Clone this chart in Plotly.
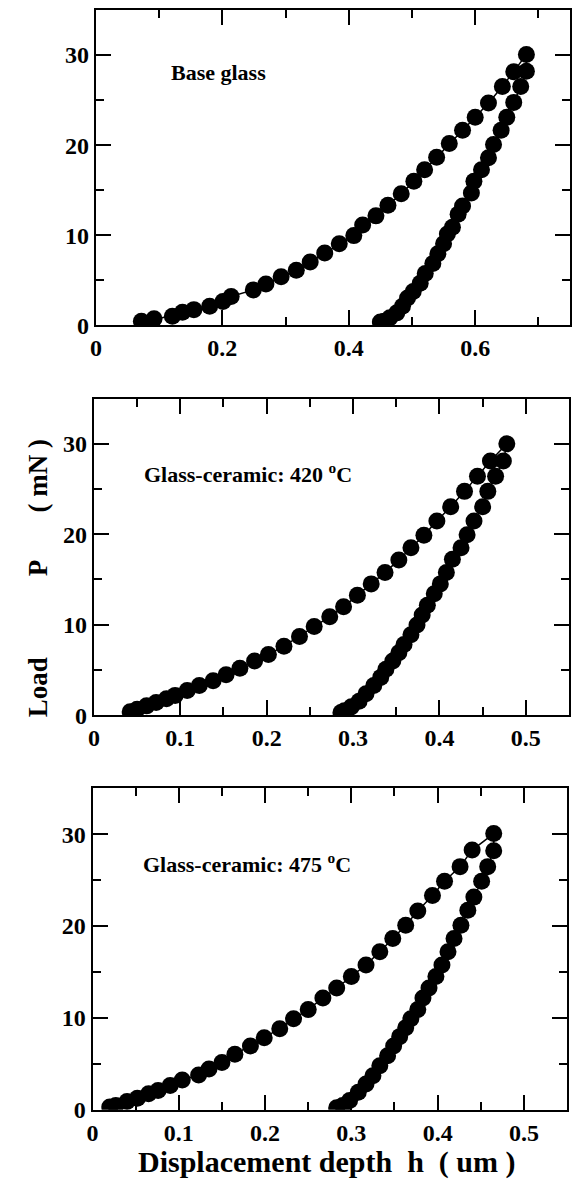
import plotly.graph_objects as go

# ---------------- data ----------------
# Panel 1: Base glass (loading then unloading)
base_h = [0.072, 0.092, 0.121, 0.137, 0.155, 0.180, 0.201, 0.214, 0.249, 0.269,
          0.293, 0.317, 0.339, 0.362, 0.385, 0.408, 0.422, 0.443, 0.462, 0.483,
          0.503, 0.520, 0.539, 0.559, 0.580, 0.600, 0.621, 0.643, 0.661, 0.681,
          0.681, 0.672, 0.661, 0.650, 0.641, 0.629, 0.621, 0.610, 0.598, 0.594,
          0.580, 0.573, 0.564, 0.556, 0.550, 0.541, 0.533, 0.521, 0.513, 0.502,
          0.493, 0.485, 0.476, 0.465, 0.456, 0.450]
base_p = [0.47, 0.73, 1.02, 1.46, 1.75, 2.12, 2.66, 3.21, 3.94, 4.60,
          5.40, 6.13, 7.04, 8.03, 9.05, 9.96, 11.13, 12.15, 13.32, 14.60,
          15.99, 17.26, 18.65, 20.18, 21.64, 23.10, 24.67, 26.50, 28.14, 30.04,
          28.20, 26.50, 24.74, 23.10, 21.64, 20.07, 18.60, 17.26, 15.99, 14.70,
          13.25, 12.34, 10.88, 10.15, 9.05, 7.96, 6.86, 5.77, 4.67, 3.76,
          3.03, 2.12, 1.39, 0.84, 0.47, 0.37]

# Panel 2: Glass-ceramic 420 C
gc420_h = [0.042, 0.050, 0.061, 0.072, 0.084, 0.094, 0.108, 0.122, 0.138, 0.153,
           0.169, 0.186, 0.202, 0.220, 0.238, 0.255, 0.273, 0.289, 0.305, 0.321,
           0.337, 0.353, 0.367, 0.382, 0.397, 0.413, 0.429, 0.444, 0.459, 0.478,
           0.474, 0.465, 0.456, 0.450, 0.440, 0.432, 0.425, 0.415, 0.408, 0.401,
           0.394, 0.386, 0.380, 0.374, 0.367, 0.359, 0.353, 0.346, 0.338, 0.332,
           0.324, 0.315, 0.307, 0.298, 0.290, 0.286]
gc420_p = [0.36, 0.65, 1.02, 1.38, 1.81, 2.18, 2.72, 3.26, 3.81, 4.46,
           5.19, 5.98, 6.71, 7.62, 8.70, 9.79, 10.88, 11.97, 13.24, 14.51,
           15.78, 17.16, 18.50, 19.88, 21.47, 23.03, 24.74, 26.41, 28.11, 30.00,
           28.10, 26.40, 24.74, 23.03, 21.47, 19.95, 18.50, 17.23, 15.78, 14.51,
           13.42, 12.15, 11.06, 9.97, 8.89, 7.80, 6.89, 5.98, 5.08, 4.17,
           3.26, 2.36, 1.52, 0.91, 0.47, 0.29]

# Panel 3: Glass-ceramic 475 C
gc475_h = [0.020, 0.027, 0.040, 0.052, 0.065, 0.076, 0.090, 0.104, 0.123, 0.135,
           0.150, 0.165, 0.183, 0.199, 0.217, 0.233, 0.250, 0.267, 0.283, 0.300,
           0.317, 0.333, 0.348, 0.363, 0.377, 0.394, 0.408, 0.426, 0.440, 0.465,
           0.465, 0.458, 0.451, 0.442, 0.435, 0.427, 0.419, 0.412, 0.405, 0.398,
           0.390, 0.383, 0.377, 0.369, 0.363, 0.356, 0.349, 0.342, 0.333, 0.325,
           0.317, 0.308, 0.298, 0.290, 0.283]
gc475_p = [0.29, 0.47, 0.90, 1.26, 1.73, 2.09, 2.63, 3.24, 3.78, 4.43,
           5.15, 6.05, 6.95, 7.85, 8.82, 9.90, 10.91, 12.17, 13.25, 14.51,
           15.77, 17.21, 18.65, 20.09, 21.64, 23.33, 24.88, 26.47, 28.27, 30.07,
           28.20, 26.47, 24.88, 23.15, 21.71, 20.09, 18.65, 17.21, 15.77, 14.51,
           13.25, 12.17, 10.91, 9.90, 8.93, 7.96, 6.95, 5.87, 4.79, 3.71,
           2.81, 1.91, 1.01, 0.47, 0.22]

panel_labels = ["Base glass", "Glass-ceramic: 420 <sup>o</sup>C", "Glass-ceramic: 475 <sup>o</sup>C"]
label_pos = [(0.115, 28.1), (0.0555, 26.8), (0.056, 26.9)]
x_ranges = [[0, 0.75], [0, 0.55], [0, 0.55]]
x_dticks = [0.2, 0.1, 0.1]
x_minor = [0.1, 0.05, 0.05]
y_range = [0, 35]
y_dtick = 10
y_minor = 5

x_title = "Displacement depth\u00a0\u00a0h\u00a0\u00a0(\u00a0um\u00a0)"
y_title = "Load" + "\u00a0" * 12 + "P" + "\u00a0" * 7 + "(\u00a0mN\u00a0)"

# ---------------- layout geometry (pixels) ----------------
W, H = 572, 1189
boxes = [  # left, right, top, bottom
    (91, 571, 10, 329),
    (89, 570, 403, 723),
    (87.6, 568, 797, 1122),
]

FONT = "Liberation Serif"
data_sets = [(base_h, base_p), (gc420_h, gc420_p), (gc475_h, gc475_p)]

fig = go.Figure()
layout = dict(
    width=W, height=H,
    margin=dict(l=0, r=0, t=0, b=0),
    paper_bgcolor="white", plot_bgcolor="white",
    showlegend=False,
    font=dict(family=FONT, color="black"),
)
annotations = []
for i, ((hx, py), (l, r, t, b)) in enumerate(zip(data_sets, boxes)):
    sfx = "" if i == 0 else str(i + 1)
    fig.add_trace(go.Scatter(
        x=hx, y=py, mode="lines+markers",
        xaxis="x" + sfx, yaxis="y" + sfx,
        line=dict(color="black", width=1.5),
        marker=dict(color="black", size=17, line=dict(width=0)),
    ))
    common = dict(
        showgrid=False, zeroline=False, showline=True, linecolor="black",
        linewidth=2, mirror="allticks", ticks="inside", ticklen=15, tickwidth=2,
        tickcolor="black",
        tickfont=dict(family=FONT, size=24, color="black", weight="bold"),
    )
    layout["xaxis" + sfx] = dict(
        domain=[l / W, r / W], anchor="y" + sfx, range=x_ranges[i],
        dtick=x_dticks[i], tick0=0,
        minor=dict(dtick=x_minor[i], tick0=0, ticks="inside", ticklen=8,
                   tickwidth=2, tickcolor="black", showgrid=False),
        **common,
    )
    layout["yaxis" + sfx] = dict(
        domain=[1 - b / H, 1 - t / H], anchor="x" + sfx, range=y_range,
        dtick=y_dtick, tick0=0,
        minor=dict(dtick=y_minor, tick0=0, ticks="inside", ticklen=8,
                   tickwidth=2, tickcolor="black", showgrid=False),
        **common,
    )
    annotations.append(dict(
        x=label_pos[i][0], y=label_pos[i][1], xref="x" + sfx, yref="y" + sfx,
        text=panel_labels[i], showarrow=False, xanchor="left", yanchor="middle",
        font=dict(family=FONT, size=22, color="black", weight="bold"),
    ))

annotations.append(dict(
    x=32 / W, y=1 - 585 / H, xref="paper", yref="paper", text=y_title,
    textangle=-90, showarrow=False, xanchor="center", yanchor="middle",
    font=dict(family=FONT, size=27, color="black", weight="bold"),
))
annotations.append(dict(
    x=325 / W, y=1 - 1175 / H, xref="paper", yref="paper", text=x_title,
    showarrow=False, xanchor="center", yanchor="middle",
    font=dict(family=FONT, size=30, color="black", weight="bold"),
))
layout["annotations"] = annotations
fig.update_layout(**layout)
fig.write_html(
    "out.html",
    config={"displayModeBar": False},
    post_script="document.body.style.margin='0';document.body.style.overflow='hidden';",
)
